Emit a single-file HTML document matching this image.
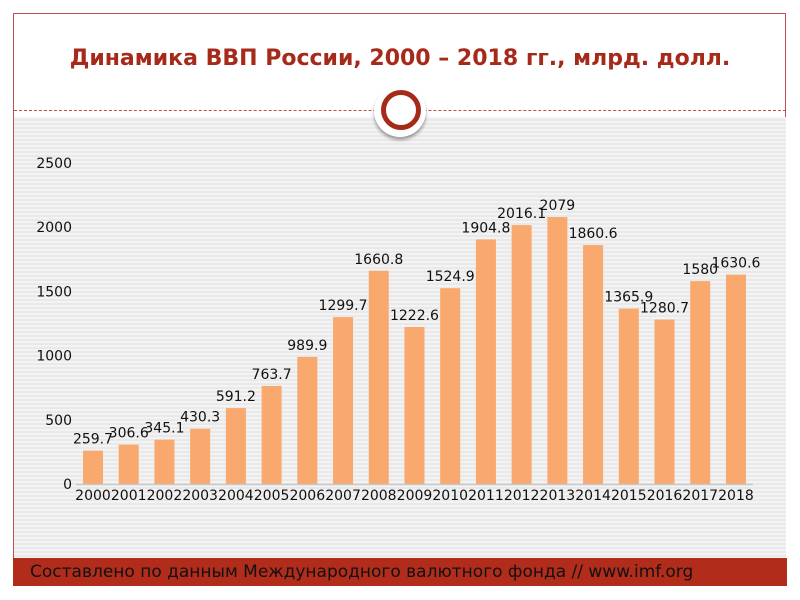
<!DOCTYPE html>
<html><head><meta charset="utf-8">
<style>
body{margin:0;width:800px;height:600px;background:#fff;overflow:hidden;font-family:"DejaVu Sans","Liberation Sans",sans-serif;}
#frame{position:absolute;left:13px;top:13px;width:773px;height:573px;border:1px solid #c0504d;box-sizing:border-box;}
#title{position:absolute;left:0;top:46px;width:800px;text-align:center;font-weight:bold;font-size:22px;color:#a52a1a;}
#dash{position:absolute;left:14px;top:110px;width:772px;border-top:1px dashed #c0504d;}
#stripes{position:absolute;left:14px;top:117px;width:772px;height:441px;background:repeating-linear-gradient(#f3f3f3 0 2px,#e9e9e9 2px 4px);}
#circle{position:absolute;left:374px;top:85px;width:52px;height:52px;border-radius:50%;background:#fff;box-shadow:0 3px 3px rgba(0,0,0,0.35);}
#ring{position:absolute;left:381px;top:90px;width:30px;height:30px;border-radius:50%;border:5px solid #a52a1a;background:#fff;}
#footer{position:absolute;left:13px;top:558px;width:774px;height:28px;background:#b22c1b;color:#111;font-size:17px;line-height:28px;padding-left:17px;box-sizing:border-box;}
svg{position:absolute;left:0;top:0;}
</style></head><body>
<div id="frame"></div>
<div id="title">Динамика ВВП России, 2000 – 2018 гг., млрд. долл.</div>
<div id="dash"></div>
<div id="stripes"></div>
<div id="circle"></div>
<div id="ring"></div>
<svg id="chart" width="800" height="600"></svg>
<div id="footer">Составлено по данным Международного валютного фонда // www.imf.org</div>
<script>
const categories=["2000","2001","2002","2003","2004","2005","2006","2007","2008","2009","2010","2011","2012","2013","2014","2015","2016","2017","2018"];
const values=[259.7,306.6,345.1,430.3,591.2,763.7,989.9,1299.7,1660.8,1222.6,1524.9,1904.8,2016.1,2079,1860.6,1365.9,1280.7,1580,1630.6];
const labels=["259.7","306.6","345.1","430.3","591.2","763.7","989.9","1299.7","1660.8","1222.6","1524.9","1904.8","2016.1","2079","1860.6","1365.9","1280.7","1580","1630.6"];
const yTicks=[0,500,1000,1500,2000,2500];
const svg=document.getElementById('chart');const NS='http://www.w3.org/2000/svg';
const y0=484,yTop=163,yMax=2500;
const y=v=>y0-(v/yMax)*(y0-yTop);
const x=i=>93+i*35.72;
function mk(t,a,txt){const e=document.createElementNS(NS,t);for(const k in a)e.setAttribute(k,a[k]);if(txt!==undefined)e.textContent=txt;svg.appendChild(e);return e;}
yTicks.forEach(t=>{const e=mk('text',{x:72,y:y(t)+5,'text-anchor':'end','font-size':14,fill:'#111'},String(t));

});
values.forEach((v,i)=>{
const r=mk('rect',{x:x(i)-10,y:y(v),width:20,height:y0-y(v),fill:'#f9a86e'});


const l=mk('text',{x:x(i),y:y(v)-7,'text-anchor':'middle','font-size':14,fill:'#111'},labels[i]);


const c=mk('text',{x:x(i),y:500,'text-anchor':'middle','font-size':14,fill:'#111'},categories[i]);


});
const ax=mk('line',{x1:76,x2:753,y1:y0+0.5,y2:y0+0.5,stroke:'#c8c8c8','stroke-width':1.5});


</script>
</body></html>
